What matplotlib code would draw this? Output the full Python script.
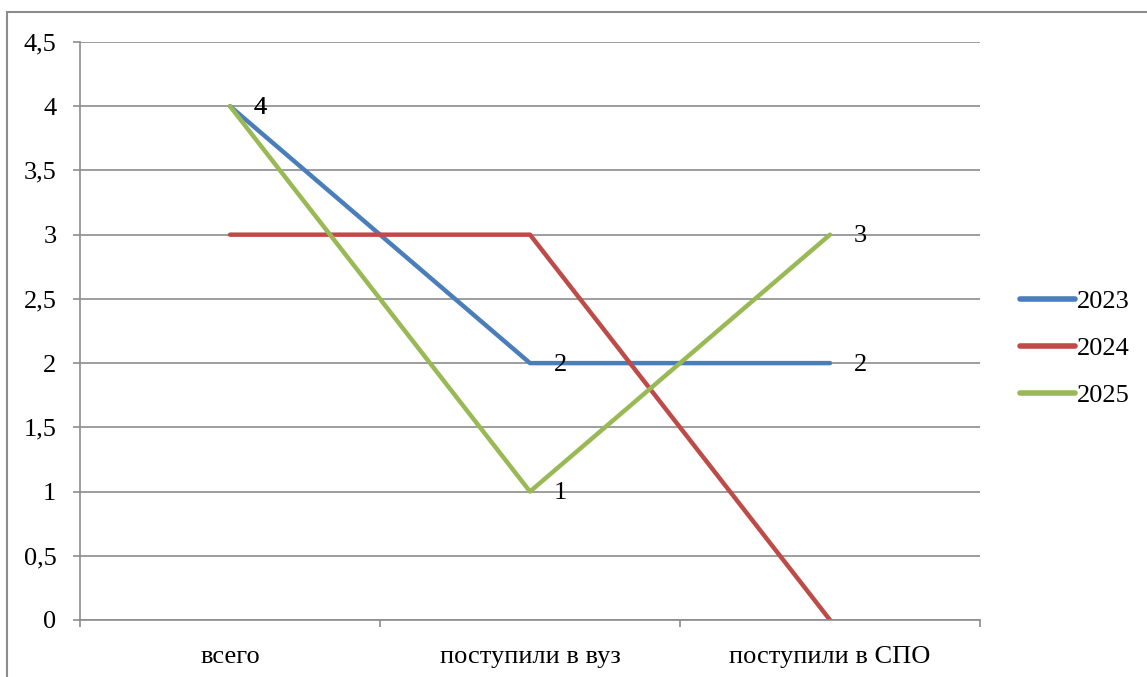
import matplotlib.pyplot as plt
from matplotlib.patches import Rectangle
from matplotlib.ticker import FuncFormatter

categories = ['всего', 'поступили в вуз', 'поступили в СПО']
years = ['2023', '2024', '2025']
values_2023 = [4, 2, 2]
values_2024 = [3, 3, 0]
values_2025 = [4, 1, 3]
series = [values_2023, values_2024, values_2025]
colors = ['#4A7EBB', '#BE4B48', '#98B954']
labelled = [True, False, True]

plt.rcParams['font.family'] = ['Liberation Serif', 'DejaVu Serif']
FS = 19

fig = plt.figure(figsize=(11.47, 6.77), dpi=100)
ax = fig.add_axes([80/1147, 1 - 620/677, 900/1147, 578/677])

# outer chart frame (partly cut off on the right and bottom)
fig.patches.append(Rectangle((7/1147, -0.05), 1.2, 1 - 12/677 + 0.05,
                             transform=fig.transFigure, fill=False,
                             edgecolor='#8c8c8c', linewidth=1.5))

x = list(range(len(categories)))
for vals, year, col, lab in zip(series, years, colors, labelled):
    ax.plot(x, vals, color=col, linewidth=3.2, label=year,
            solid_capstyle='round', solid_joinstyle='round')
    if lab:
        for xi, v in zip(x, vals):
            ax.annotate(str(v), (xi, v), xytext=(17, -1), textcoords='offset points',
                        fontsize=FS, va='center', ha='left')

ax.set_xlim(-0.5, 2.5)
ax.set_ylim(0, 4.5)
ax.set_yticks([i * 0.5 for i in range(10)])
ax.yaxis.set_major_formatter(FuncFormatter(lambda v, p: ('%g' % v).replace('.', ',')))
ax.set_xticks(x)
ax.set_xticklabels(categories)
ax.set_xticks([-0.5, 0.5, 1.5, 2.5], minor=True)
ax.tick_params(axis='x', which='major', length=0, pad=19, labelsize=FS)
ax.tick_params(axis='x', which='minor', length=5, color='#8c8c8c', width=1.2)
ax.tick_params(axis='y', length=5, color='#8c8c8c', width=1.2, labelsize=FS, pad=12)
ax.grid(axis='y', color='#8c8c8c', linewidth=1.2)
ax.set_axisbelow(True)
for s in ['top', 'right']:
    ax.spines[s].set_visible(False)
for s in ['left', 'bottom']:
    ax.spines[s].set_color('#8c8c8c')
    ax.spines[s].set_linewidth(1.2)

leg = ax.legend(loc='center left', bbox_to_anchor=(1.018, 0.47), frameon=False,
                fontsize=FS, handlelength=2.1, handletextpad=0.05, labelspacing=0.88)
for line in leg.get_lines():
    line.set_linewidth(4)
    line.set_solid_capstyle('round')

fig.savefig('out.png', dpi=100)
